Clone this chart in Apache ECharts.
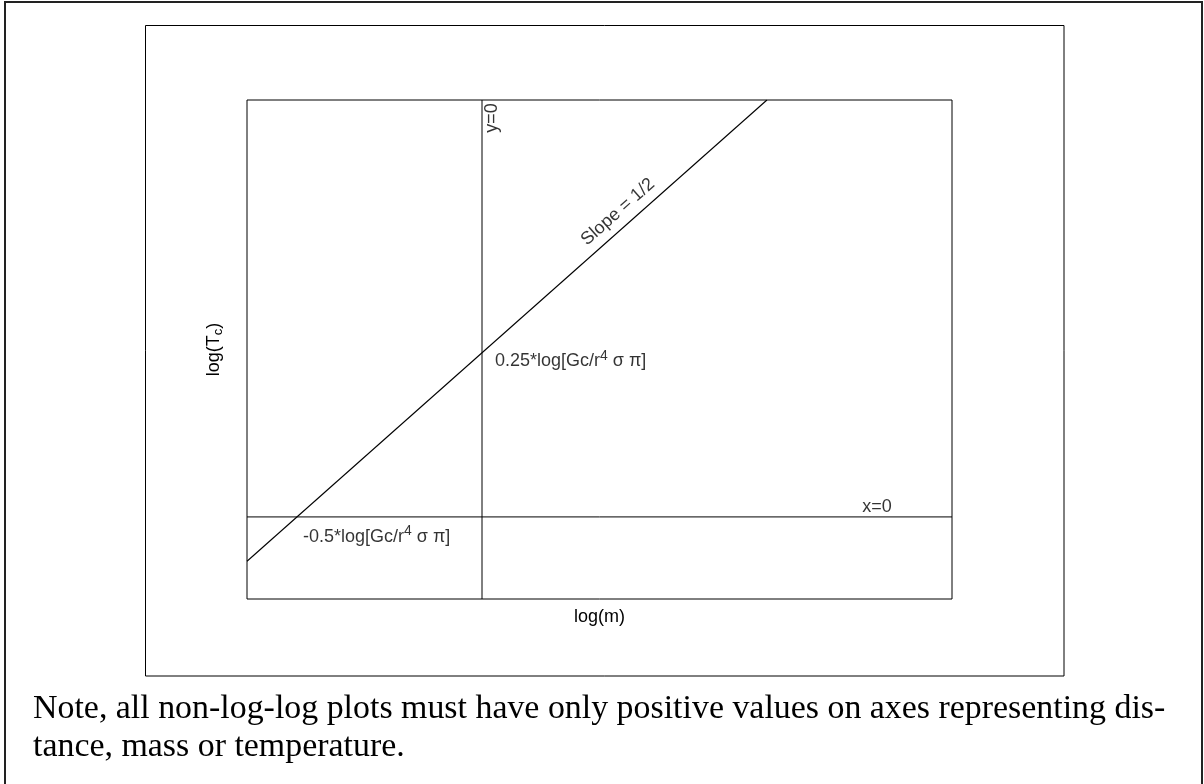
<!DOCTYPE html>
<html>
<head>
<meta charset="utf-8">
<script src="https://cdn.jsdelivr.net/npm/echarts@6/dist/echarts.min.js"></script>
<style>
html,body{margin:0;padding:0;background:#fff;}
#chart{width:1204px;height:784px;}
</style>
</head>
<body>
<div id="chart"></div>
<script>
// axis ranges (data units: log(m) horizontally, log(Tc) vertically)
const xRange = [-2.54, 5.08];
const yRange = [-0.5, 2.54];
// slope = 1/2 line endpoints
const slopeLineX = [-2.54, 3.08];
const slopeLineY = [-0.27, 2.54];
// reference lines
const verticalLineX = 0;   // labelled "y=0"
const horizontalLineY = 0; // labelled "x=0"
// annotation texts and their data positions
const annoTexts = ['y=0', 'Slope = 1/2', '0.25*log[Gc/r{sup|4} σ π]', '-0.5*log[Gc/r{sup|4} σ π]', 'x=0'];
const annoX = [0.108, 1.47, 0.14, -1.935, 4.27];
const annoY = [2.43, 1.858, 0.95, -0.12, 0.058];
const annoRotate = [90, 41.5, 0, 0, 0];
const annoAlign = ['center', 'center', 'left', 'left', 'center'];
// axis titles and note
const xTitle = 'log(m)';
const yTitle = 'log(T{sub|c})';
const noteLines = [
  'Note, all non-log-log plots must have only positive values on axes representing dis-',
  'tance, mass or temperature.'
];

const sans = '"Liberation Sans", Arial, sans-serif';
const serif = '"Liberation Serif", "Times New Roman", serif';

// fit note font size so line 1 spans the same width as the reference
const ctx = document.createElement('canvas').getContext('2d');
ctx.font = '100px ' + serif;
const noteSize = Math.round(100 * 1133 / ctx.measureText(noteLines[0]).width * 10) / 10;

const richSup = {
  sup: { fontSize: 14, lineHeight: 14, verticalAlign: 'top', fontFamily: sans, color: '#000' }
};

const annoData = annoTexts.map((t, i) => ({
  value: [annoX[i], annoY[i]],
  label: {
    formatter: t,
    rotate: annoRotate[i],
    align: annoAlign[i],
    position: annoAlign[i] === 'left' ? 'right' : 'inside',
    distance: 0
  }
}));

const chart = echarts.init(document.getElementById('chart'), null, { renderer: 'canvas' });
chart.setOption({
  animation: false,
  backgroundColor: '#fff',
  grid: { left: 247, top: 100, width: 705, height: 499, show: true, borderColor: '#000', borderWidth: 1, backgroundColor: 'transparent' },
  xAxis: {
    type: 'value', min: xRange[0], max: xRange[1],
    axisLine: { show: false }, axisTick: { show: false }, axisLabel: { show: false }, splitLine: { show: false },
    name: xTitle, nameLocation: 'middle', nameGap: 9,
    nameTextStyle: { fontFamily: sans, fontSize: 18, color: '#000' }
  },
  yAxis: {
    type: 'value', min: yRange[0], max: yRange[1],
    axisLine: { show: false }, axisTick: { show: false }, axisLabel: { show: false }, splitLine: { show: false },
    name: yTitle, nameLocation: 'middle', nameGap: 22, nameRotate: 90,
    nameTextStyle: {
      fontFamily: sans, fontSize: 18, color: '#000', lineHeight: 22,
      rich: { sub: { fontSize: 13, lineHeight: 13, verticalAlign: 'bottom', fontFamily: sans, color: '#000' } }
    }
  },
  series: [
    {
      type: 'line', data: slopeLineX.map((x, i) => [x, slopeLineY[i]]),
      symbol: 'none', lineStyle: { color: '#000', width: 1.1 }, silent: true
    },
    {
      type: 'line', data: [[verticalLineX, yRange[0]], [verticalLineX, yRange[1]]],
      symbol: 'none', lineStyle: { color: '#000', width: 1 }, silent: true
    },
    {
      type: 'line', data: [[xRange[0], horizontalLineY], [xRange[1], horizontalLineY]],
      symbol: 'none', lineStyle: { color: '#000', width: 1 }, silent: true
    },
    {
      type: 'scatter', symbolSize: 0, silent: true, data: annoData,
      label: {
        show: true, fontFamily: sans, fontSize: 18, color: '#000', lineHeight: 24,
        rich: richSup
      }
    }
  ],
  graphic: [
    { type: 'rect', shape: { x: 5, y: 2, width: 1197, height: 800 }, style: { fill: 'none', stroke: '#222', lineWidth: 2 }, silent: true },
    { type: 'rect', shape: { x: 145.5, y: 25.5, width: 918.5, height: 650.5 }, style: { fill: 'none', stroke: '#000', lineWidth: 1 }, silent: true },
    { type: 'text', left: 33, top: 692, style: { text: noteLines[0], font: noteSize + 'px ' + serif, fill: '#000' }, silent: true },
    { type: 'text', left: 33, top: 730, style: { text: noteLines[1], font: noteSize + 'px ' + serif, fill: '#000' }, silent: true }
  ]
});
</script>
</body>
</html>
